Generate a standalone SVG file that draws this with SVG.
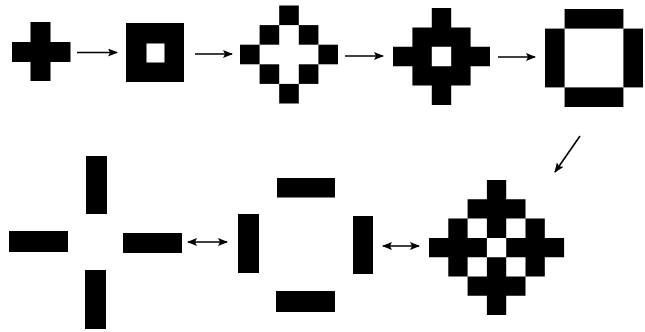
<svg xmlns="http://www.w3.org/2000/svg" width="645" height="332" viewBox="0 0 645 332">
<style>
.b{fill:#000}
.c{stroke:#000;stroke-width:1.6;fill:none}
</style>
<defs>
<marker id="ah" viewBox="0 0 10 8" refX="9" refY="4" markerWidth="10" markerHeight="8" markerUnits="userSpaceOnUse" orient="auto-start-reverse">
<path d="M0,0 L10,4 L0,8 L2,4 z" fill="#000"/>
</marker>
</defs>
<rect width="645" height="332" fill="#fff"/>
<g id="cross">
<rect class="b" x="30.5" y="22" width="20" height="59"/>
<rect class="b" x="12" y="42" width="58.5" height="20"/>
</g>
<g id="square-hole">
<path class="b" fill-rule="evenodd" d="M126,23 H184 V82 H126 Z M146.5,43.5 V62.5 H164.5 V43.5 Z"/>
</g>
<g id="diamond-ring">
<rect class="b" x="279.2" y="5.5" width="19.6" height="19.6"/>
<rect class="b" x="259.6" y="25.1" width="19.6" height="19.6"/>
<rect class="b" x="298.8" y="25.1" width="19.6" height="19.6"/>
<rect class="b" x="240" y="44.7" width="19.6" height="19.6"/>
<rect class="b" x="318.4" y="44.7" width="19.6" height="19.6"/>
<rect class="b" x="259.6" y="64.3" width="19.6" height="19.6"/>
<rect class="b" x="298.8" y="64.3" width="19.6" height="19.6"/>
<rect class="b" x="279.2" y="83.9" width="19.6" height="19.6"/>
</g>
<g id="diamond-hole">
<path class="b" fill-rule="evenodd" d="M431.8,8 H451.2 V27.4 H470.6 V46.8 H490 V66.2 H470.6 V85.6 H451.2 V105 H431.8 V85.6 H412.4 V66.2 H393 V46.8 H412.4 V27.4 H431.8 Z M431.8,46.8 V66.2 H451.2 V46.8 Z"/>
</g>
<g id="ring-square">
<rect class="b" x="564.6" y="9" width="58.8" height="19.6"/>
<rect class="b" x="545" y="28.6" width="19.6" height="58.8"/>
<rect class="b" x="623.4" y="28.6" width="19.6" height="58.8"/>
<rect class="b" x="564.6" y="87.4" width="58.8" height="19.6"/>
</g>
<g id="big-diamond">
<path class="b" fill-rule="evenodd" d="M486.9,180 H506.2 V199.3 H525.5 V218.6 H544.8 V237.9 H564.1 V257.2 H544.8 V276.5 H525.5 V295.8 H506.2 V315.1 H486.9 V295.8 H467.6 V276.5 H448.3 V257.2 H429 V237.9 H448.3 V218.6 H467.6 V199.3 H486.9 Z M467.6,218.6 V237.9 H486.9 V218.6 Z M506.2,218.6 V237.9 H525.5 V218.6 Z M486.9,237.9 V257.2 H506.2 V237.9 Z M467.6,257.2 V276.5 H486.9 V257.2 Z M506.2,257.2 V276.5 H525.5 V257.2 Z"/>
</g>
<g id="split-frame">
<rect class="b" x="277" y="178" width="58" height="19.5"/>
<rect class="b" x="238" y="214" width="21" height="59"/>
<rect class="b" x="353" y="216" width="20" height="58"/>
<rect class="b" x="276" y="291" width="59" height="21"/>
</g>
<g id="split-cross">
<rect class="b" x="86" y="156" width="21" height="58"/>
<rect class="b" x="9" y="231" width="59" height="21"/>
<rect class="b" x="123" y="233" width="59" height="20"/>
<rect class="b" x="85" y="270" width="21" height="59"/>
</g>
<g id="connectors">
<line class="c" x1="77" y1="52.5" x2="117" y2="52.5" marker-end="url(#ah)"/>
<line class="c" x1="195" y1="54" x2="232" y2="54" marker-end="url(#ah)"/>
<line class="c" x1="345" y1="56" x2="383" y2="56" marker-end="url(#ah)"/>
<line class="c" x1="498" y1="57" x2="535" y2="57" marker-end="url(#ah)"/>
<line class="c" x1="580" y1="136" x2="555" y2="172" marker-end="url(#ah)"/>
<line class="c" x1="188" y1="242" x2="227" y2="242" marker-start="url(#ah)" marker-end="url(#ah)"/>
<line class="c" x1="383" y1="246" x2="419" y2="246" marker-start="url(#ah)" marker-end="url(#ah)"/>
</g>
</svg>
